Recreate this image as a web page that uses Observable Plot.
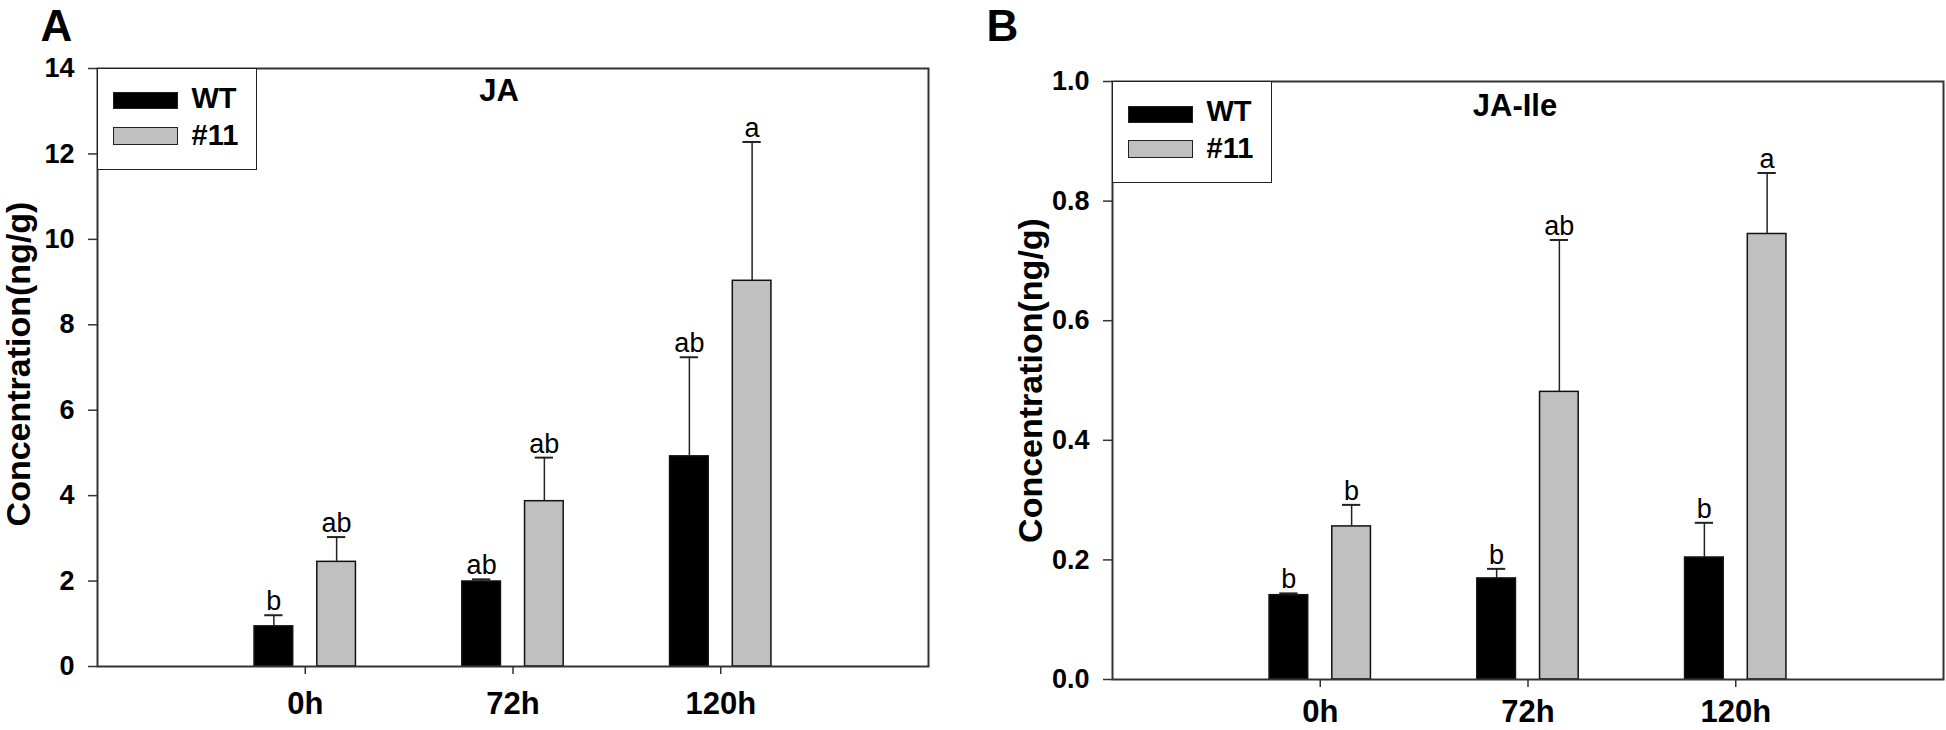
<!DOCTYPE html>
<html><head><meta charset="utf-8">
<script src="https://cdn.jsdelivr.net/npm/d3@7"></script>
<script src="https://cdn.jsdelivr.net/npm/@observablehq/plot@0.6"></script>
<style>
body{margin:0;background:#fff;}
#wrap{position:relative;width:1946px;height:730px;overflow:hidden;font-family:"Liberation Sans",Arial,sans-serif;}
.panel{position:absolute;top:0;}
.legend{position:absolute;border:1.5px solid #222;box-sizing:border-box;background:#fff;width:160px;height:102px;}
.sw{position:absolute;left:14.5px;width:65px;height:18px;border:1.5px solid #222;box-sizing:border-box;}
.lt{position:absolute;left:93.5px;font-size:29px;font-weight:bold;line-height:1;color:#000;}
</style></head>
<body><div id="wrap"></div>
<script>
// ---- data ----
const times = ["0h", "72h", "120h"];
const groups = ["WT", "#11"];
const groupFill = ["#000000", "#c0c0c0"];

// Panel A: JA
const jaWT = [0.94, 1.99, 4.92];
const jaWTErr = [0.26, 0.05, 2.32];
const jaWTLetters = ["b", "ab", "ab"];
const ja11 = [2.45, 3.87, 9.03];
const ja11Err = [0.58, 1.02, 3.25];
const ja11Letters = ["ab", "ab", "a"];
const jaTicks = [0, 2, 4, 6, 8, 10, 12, 14];

// Panel B: JA-Ile
const ileWT = [0.141, 0.169, 0.204];
const ileWTErr = [0.003, 0.016, 0.058];
const ileWTLetters = ["b", "b", "b"];
const ile11 = [0.256, 0.481, 0.745];
const ile11Err = [0.036, 0.254, 0.102];
const ile11Letters = ["b", "ab", "a"];
const ileTicks = [0.0, 0.2, 0.4, 0.6, 0.8, 1.0];

const yLabel = "Concentration(ng/g)";

function rows(wt, wtErr, wtL, m, mErr, mL) {
  const out = [];
  times.forEach((t, i) => {
    out.push({time: t, pos: i + 1, group: groups[0], side: -1, value: wt[i], err: wtErr[i], letter: wtL[i]});
    out.push({time: t, pos: i + 1, group: groups[1], side: 1, value: m[i], err: mErr[i], letter: mL[i]});
  });
  return out;
}

const OFF = 0.151, HALF = 0.093, CAP = 0.044;
const cx = d => d.pos + d.side * OFF;

function chart(o) {
  return Plot.plot({
    width: o.width, height: 730,
    marginLeft: o.ml, marginRight: o.mr, marginTop: o.mt, marginBottom: o.mb,
    style: {fontFamily: "'Liberation Sans', Arial, sans-serif", background: "white", color: "black", overflow: "visible"},
    x: {domain: [0, 4]},
    y: {domain: [0, o.ticks[o.ticks.length - 1]]},
    marks: [
      Plot.rect(o.data, {x1: d => cx(d) - HALF, x2: d => cx(d) + HALF, y1: 0, y2: "value",
        fill: d => groupFill[groups.indexOf(d.group)], stroke: "#111", strokeWidth: 1.5}),
      Plot.ruleX(o.data, {x: cx, y1: "value", y2: d => d.value + d.err, stroke: "#222", strokeWidth: 1.5}),
      Plot.ruleY(o.data, {y: d => d.value + d.err, x1: d => cx(d) - CAP, x2: d => cx(d) + CAP, stroke: "#222", strokeWidth: 2}),
      Plot.text(o.data, {x: cx, y: d => d.value + d.err, text: "letter", lineAnchor: "bottom", dy: -5, fontSize: 27, fill: "black"}),
      Plot.frame({stroke: "#333", strokeWidth: 2}),
      Plot.axisY({ticks: o.ticks, tickFormat: o.fmt, tickSize: 9, tickPadding: 14, fontSize: 27, fontWeight: "bold",
        label: null, stroke: "#333", strokeWidth: 1.5, fill: "black"}),
      Plot.axisX({ticks: [1, 2, 3], tickFormat: i => times[i - 1], tickSize: 8, tickPadding: o.xPad, fontSize: 31, fontWeight: "bold",
        label: null, stroke: "#333", strokeWidth: 1.5, fill: "black"}),
      Plot.text([o.title], {text: d => d, frameAnchor: "top", dx: o.titleDx, dy: o.titleDy, lineAnchor: "bottom",
        fontSize: 31, fontWeight: "bold", fill: "black"}),
      Plot.text([o.letter], {text: d => d, frameAnchor: "top-left", textAnchor: "start", dx: o.letterDx, dy: o.letterDy,
        lineAnchor: "bottom", fontSize: 44, fontWeight: "bold", fill: "black"}),
      Plot.text([yLabel], {text: d => d, frameAnchor: "left", textAnchor: "middle", rotate: -90, lineAnchor: "top",
        dx: o.labelDx, dy: o.labelDy, fontSize: 34, fontWeight: "bold", fill: "black"})
    ]
  });
}

const wrap = document.getElementById("wrap");

function addPanel(svg, left, legLeft, legTop) {
  svg.classList.add("panel");
  svg.style.left = left + "px";
  wrap.appendChild(svg);
  const leg = document.createElement("div");
  leg.className = "legend";
  leg.style.left = legLeft + "px";
  leg.style.top = legTop + "px";
  groups.forEach((g, i) => {
    const sw = document.createElement("div");
    sw.className = "sw";
    sw.style.top = (i === 0 ? 23.5 : 58) + "px";
    sw.style.height = (i === 0 ? 17 : 18) + "px";
    sw.style.background = groupFill[i];
    leg.appendChild(sw);
    const t = document.createElement("div");
    t.className = "lt";
    t.style.top = (i === 0 ? 15 : 52) + "px";
    t.textContent = g;
    leg.appendChild(t);
  });
  wrap.appendChild(leg);
}

const svgA = chart({
  data: rows(jaWT, jaWTErr, jaWTLetters, ja11, ja11Err, ja11Letters),
  ticks: jaTicks, fmt: d3.format("d"),
  width: 960, ml: 97, mr: 32, mt: 68, mb: 64, xPad: 17,
  title: "JA", titleDx: -14, titleDy: 32,
  letter: "A", letterDx: -57, letterDy: -28,
  labelDx: -92, labelDy: -3.5
});
addPanel(svgA, 0, 97, 67.5);

const svgB = chart({
  data: rows(ileWT, ileWTErr, ileWTLetters, ile11, ile11Err, ile11Letters),
  ticks: ileTicks, fmt: d3.format(".1f"),
  width: 986, ml: 152, mr: 3, mt: 81, mb: 51, xPad: 12,
  title: "JA-Ile", titleDx: -13, titleDy: 34,
  letter: "B", letterDx: -126, letterDy: -41,
  labelDx: -95, labelDy: 0
});
addPanel(svgB, 960, 1112, 81);
</script>
</body></html>
